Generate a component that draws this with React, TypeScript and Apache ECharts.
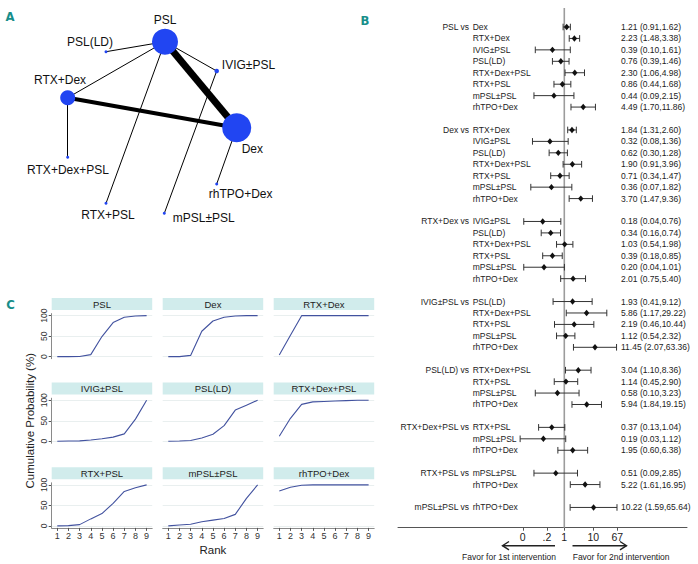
import { useEffect, useRef } from "react";
import * as echarts from "echarts";

const FONT = "'Liberation Sans', Arial, Helvetica, sans-serif";
const TEAL = "#178e8a";
const NODE_COLOR = "#2145f2";

// ---------- Panel A: network ----------
const nodeNames = ["PSL", "Dex", "RTX+Dex", "IVIG±PSL", "PSL(LD)", "RTX+Dex+PSL", "RTX+PSL", "mPSL±PSL", "rhTPO+Dex"];
const nodeX = [165, 236.7, 67.7, 216.7, 106, 67.7, 106, 164.3, 216.7];
const nodeY = [41.7, 127.7, 97.7, 71, 51.7, 157.3, 203.3, 213.3, 184];
const nodeSize = [26, 29, 15, 4.5, 3, 3, 3, 3, 3];
const edgeFrom = ["PSL", "RTX+Dex", "PSL", "PSL", "PSL", "PSL", "IVIG±PSL", "Dex", "RTX+Dex"];
const edgeTo = ["Dex", "Dex", "RTX+Dex", "PSL(LD)", "IVIG±PSL", "RTX+PSL", "mPSL±PSL", "rhTPO+Dex", "RTX+Dex+PSL"];
const edgeWidth = [7, 4, 1, 1, 1, 1, 1, 1, 1];

// label placement (layout, not data)
const nodeLabelOffset: [number, number][] = [
  [0, -21.7], [15.6, 21.3], [-7.7, -17.7], [31.8, -6], [-16, -10],
  [0.3, 12.7], [2, 11.7], [39.4, 4.7], [24, 10],
];

// ---------- Panel B: forest plot ----------
const rowFirst = [
  "PSL", "PSL", "PSL", "PSL", "PSL", "PSL", "PSL", "PSL",
  "Dex", "Dex", "Dex", "Dex", "Dex", "Dex", "Dex",
  "RTX+Dex", "RTX+Dex", "RTX+Dex", "RTX+Dex", "RTX+Dex", "RTX+Dex",
  "IVIG±PSL", "IVIG±PSL", "IVIG±PSL", "IVIG±PSL", "IVIG±PSL",
  "PSL(LD)", "PSL(LD)", "PSL(LD)", "PSL(LD)",
  "RTX+Dex+PSL", "RTX+Dex+PSL", "RTX+Dex+PSL",
  "RTX+PSL", "RTX+PSL",
  "mPSL±PSL",
];
const rowSecond = [
  "Dex", "RTX+Dex", "IVIG±PSL", "PSL(LD)", "RTX+Dex+PSL", "RTX+PSL", "mPSL±PSL", "rhTPO+Dex",
  "RTX+Dex", "IVIG±PSL", "PSL(LD)", "RTX+Dex+PSL", "RTX+PSL", "mPSL±PSL", "rhTPO+Dex",
  "IVIG±PSL", "PSL(LD)", "RTX+Dex+PSL", "RTX+PSL", "mPSL±PSL", "rhTPO+Dex",
  "PSL(LD)", "RTX+Dex+PSL", "RTX+PSL", "mPSL±PSL", "rhTPO+Dex",
  "RTX+Dex+PSL", "RTX+PSL", "mPSL±PSL", "rhTPO+Dex",
  "RTX+PSL", "mPSL±PSL", "rhTPO+Dex",
  "mPSL±PSL", "rhTPO+Dex",
  "rhTPO+Dex",
];
const orEst = [
  1.21, 2.23, 0.39, 0.76, 2.30, 0.86, 0.44, 4.49,
  1.84, 0.32, 0.62, 1.90, 0.71, 0.36, 3.70,
  0.18, 0.34, 1.03, 0.39, 0.20, 2.01,
  1.93, 5.86, 2.19, 1.12, 11.45,
  3.04, 1.14, 0.58, 5.94,
  0.37, 0.19, 1.95,
  0.51, 5.22,
  10.22,
];
const ciLow = [
  0.91, 1.48, 0.10, 0.39, 1.06, 0.44, 0.09, 1.70,
  1.31, 0.08, 0.30, 0.91, 0.34, 0.07, 1.47,
  0.04, 0.16, 0.54, 0.18, 0.04, 0.75,
  0.41, 1.17, 0.46, 0.54, 2.07,
  1.10, 0.45, 0.10, 1.84,
  0.13, 0.03, 0.60,
  0.09, 1.61,
  1.59,
];
const ciHigh = [
  1.62, 3.38, 1.61, 1.46, 4.98, 1.68, 2.15, 11.86,
  2.60, 1.36, 1.28, 3.96, 1.47, 1.82, 9.36,
  0.76, 0.74, 1.98, 0.85, 1.01, 5.40,
  9.12, 29.22, 10.44, 2.32, 63.36,
  8.36, 2.90, 3.23, 19.15,
  1.04, 1.12, 6.38,
  2.85, 16.95,
  65.64,
];
const forestTickValues = [0.037, 0.25, 1, 10, 67];
const forestTickLabels = ["0", ".2", "1", "10", "67"];

// ---------- Panel C: cumulative ranking ----------
const rankLabels = ["1", "2", "3", "4", "5", "6", "7", "8", "9"];
const panelNames = ["PSL", "Dex", "RTX+Dex", "IVIG±PSL", "PSL(LD)", "RTX+Dex+PSL", "RTX+PSL", "mPSL±PSL", "rhTPO+Dex"];
const cumPSL = [0, 0, 0.5, 5, 49, 83, 96, 99, 100];
const cumDex = [0, 0, 3, 62, 87, 96, 99, 100, 100];
const cumRTXDex = [4, 52, 100, 100, 100, 100, 100, 100, 100];
const cumIVIG = [0, 0.5, 1, 3, 6, 10, 18, 54, 100];
const cumPSLLD = [0, 0.5, 2, 8, 17, 38, 76, 88, 100];
const cumRTXDexPSL = [12, 56, 90, 96, 97, 98, 99, 100, 100];
const cumRTXPSL = [0, 0.5, 3, 17, 30, 55, 84, 93, 100];
const cumMPSL = [0, 2, 4, 10, 14, 18, 28, 67, 100];
const cumRhTPO = [85, 94, 99, 100, 100, 100, 100, 100, 100];
const cumSeries = [cumPSL, cumDex, cumRTXDex, cumIVIG, cumPSLLD, cumRTXDexPSL, cumRTXPSL, cumMPSL, cumRhTPO];
const yTicksC = [0, 50, 100];

function buildOption() {
  const L = Math.log10;

  // forest row layout: blank row between comparison groups
  const rows: number[][] = [];
  let r = 0;
  for (let i = 0; i < rowFirst.length; i++) {
    if (i > 0 && rowFirst[i] !== rowFirst[i - 1]) r++;
    rows.push([r, L(ciLow[i]), L(orEst[i]), L(ciHigh[i]), i]);
    r++;
  }
  const fYMin = -1.66;
  const fYMax = 43.77;

  const grids: any[] = [
    { left: 0, top: 0, width: 300, height: 290 },
    { left: 398, top: 8, width: 289, height: 519.7 },
  ];
  const xAxes: any[] = [
    { gridIndex: 0, type: "value", min: 0, max: 300, show: false },
    {
      gridIndex: 1,
      type: "value",
      min: -5.734,
      max: 4.231,
      axisLine: { show: true, onZero: false, lineStyle: { color: "#555", width: 1 } },
      axisTick: { show: true, length: 3, customValues: forestTickValues.map(L), lineStyle: { color: "#555" } },
      axisLabel: {
        show: true,
        customValues: forestTickValues.map(L),
        margin: 4,
        fontSize: 10.5,
        color: "#222",
        fontFamily: FONT,
        formatter: (v: number) => {
          const k = forestTickValues.findIndex((t) => Math.abs(L(t) - v) < 1e-6);
          return k >= 0 ? forestTickLabels[k] : "";
        },
      },
      splitLine: { show: false },
    },
  ];
  const yAxes: any[] = [
    { gridIndex: 0, type: "value", min: 0, max: 290, inverse: true, show: false },
    { gridIndex: 1, type: "value", min: fYMin, max: fYMax, inverse: true, show: false },
  ];

  const series: any[] = [
    {
      type: "graph",
      coordinateSystem: "cartesian2d",
      xAxisIndex: 0,
      yAxisIndex: 0,
      layout: "none",
      symbol: "circle",
      silent: true,
      itemStyle: { color: NODE_COLOR },
      label: { show: true, position: "inside", fontSize: 12, color: "#111", fontFamily: FONT },
      lineStyle: { color: "#000", opacity: 1, curveness: 0 },
      emphasis: { disabled: true },
      data: nodeNames.map((n, i) => ({
        name: n,
        value: [nodeX[i], nodeY[i]],
        symbolSize: nodeSize[i],
        label: { offset: nodeLabelOffset[i] },
      })),
      links: edgeFrom.map((s, i) => ({
        source: nodeNames.indexOf(s),
        target: nodeNames.indexOf(edgeTo[i]),
        lineStyle: { width: edgeWidth[i], color: "#000", opacity: 1 },
      })),
    },
    {
      type: "line",
      xAxisIndex: 1,
      yAxisIndex: 1,
      data: [[0, fYMin], [0, fYMax]],
      symbol: "none",
      silent: true,
      lineStyle: { color: "#9c9c9c", width: 1.6 },
      z: 1,
    },
    {
      type: "custom",
      xAxisIndex: 1,
      yAxisIndex: 1,
      silent: true,
      data: rows,
      encode: { x: [1, 2, 3], y: 0 },
      z: 3,
      renderItem: (_params: any, api: any) => {
        const row = api.value(0);
        const idx = api.value(4);
        const pLo = api.coord([api.value(1), row]);
        const pOr = api.coord([api.value(2), row]);
        const pHi = api.coord([api.value(3), row]);
        const y = pOr[1];
        const stroke = "#333";
        const ts = { fontSize: 8.5, fontFamily: FONT, fill: "#222" };
        const children: any[] = [
          { type: "line", shape: { x1: pLo[0], y1: y, x2: pHi[0], y2: y }, style: { stroke, lineWidth: 1 } },
          { type: "line", shape: { x1: pLo[0], y1: y - 3.3, x2: pLo[0], y2: y + 3.3 }, style: { stroke, lineWidth: 1 } },
          { type: "line", shape: { x1: pHi[0], y1: y - 3.3, x2: pHi[0], y2: y + 3.3 }, style: { stroke, lineWidth: 1 } },
          {
            type: "polygon",
            shape: { points: [[pOr[0], y - 3.2], [pOr[0] + 2.7, y], [pOr[0], y + 3.2], [pOr[0] - 2.7, y]] },
            style: { fill: "#111" },
          },
          {
            type: "text",
            x: 472.7,
            y,
            style: { ...ts, text: rowSecond[idx], align: "left", textAlign: "left", verticalAlign: "middle", textVerticalAlign: "middle" },
          },
          {
            type: "text",
            x: 621,
            y,
            style: {
              ...ts,
              text: `${orEst[idx].toFixed(2)} (${ciLow[idx].toFixed(2)},${ciHigh[idx].toFixed(2)})`,
              align: "left",
              textAlign: "left",
              verticalAlign: "middle",
              textVerticalAlign: "middle",
            },
          },
        ];
        if (idx === 0 || rowFirst[idx] !== rowFirst[idx - 1]) {
          children.push({
            type: "text",
            x: 469,
            y,
            style: { ...ts, text: `${rowFirst[idx]} vs`, align: "right", textAlign: "right", verticalAlign: "middle", textVerticalAlign: "middle" },
          });
        }
        return { type: "group", children };
      },
    },
  ];

  // panel C grids
  const cLeft0 = 51.7, cDx = 111, cW = 100.5, cTop0 = 313.6, cDy = 84.6, cH = 45.1;
  const graphics: any[] = [];
  for (let k = 0; k < 9; k++) {
    const rr = Math.floor(k / 3);
    const cc = k % 3;
    const left = cLeft0 + cc * cDx;
    const top = cTop0 + rr * cDy;
    const gi = 2 + k;
    grids.push({ left, top, width: cW, height: cH });
    const bottom = rr === 2;
    const leftCol = cc === 0;
    xAxes.push({
      gridIndex: gi,
      type: "category",
      data: rankLabels,
      boundaryGap: true,
      axisLine: { show: bottom, onZero: false, lineStyle: { color: "#8a8a8a", width: 1 } },
      axisTick: { show: bottom, alignWithLabel: true, length: 3, lineStyle: { color: "#555" } },
      axisLabel: { show: bottom, margin: 4, fontSize: 9, color: "#333", fontFamily: FONT, interval: 0 },
      splitLine: { show: false },
      name: k === 7 ? "Rank" : "",
      nameLocation: "middle",
      nameGap: 16,
      nameTextStyle: { fontSize: 11.5, color: "#222", fontFamily: FONT },
    });
    yAxes.push({
      gridIndex: gi,
      type: "value",
      min: -5,
      max: 105,
      axisLine: { show: leftCol, onZero: false, lineStyle: { color: "#8a8a8a", width: 1 } },
      axisTick: { show: leftCol, length: 3, customValues: yTicksC, lineStyle: { color: "#555" } },
      axisLabel: { show: leftCol, customValues: yTicksC, rotate: 90, margin: 3, fontSize: 8.5, color: "#333", fontFamily: FONT },
      splitLine: { show: false },
      name: k === 3 ? "Cumulative Probability (%)" : "",
      nameLocation: "middle",
      nameRotate: 90,
      nameGap: 16,
      nameTextStyle: { fontSize: 11.5, color: "#222", fontFamily: FONT },
    });
    series.push({
      type: "line",
      xAxisIndex: gi,
      yAxisIndex: gi,
      data: cumSeries[k],
      symbol: "none",
      silent: true,
      lineStyle: { color: "#42529f", width: 1.1 },
      markLine: {
        silent: true,
        symbol: "none",
        label: { show: false },
        lineStyle: { color: "#e9efef", width: 1, type: "solid" },
        data: yTicksC.map((v) => ({ yAxis: v })),
        z: 1,
      },
    });
    graphics.push({
      type: "rect",
      shape: { x: left, y: top - 15.6, width: cW, height: 12 },
      style: { fill: "#d1ecec" },
      silent: true,
    });
    graphics.push({
      type: "text",
      x: left + cW / 2,
      y: top - 9.6,
      style: {
        text: panelNames[k],
        fontSize: 9.5,
        fontFamily: FONT,
        fill: "#222",
        align: "center",
        textAlign: "center",
        verticalAlign: "middle",
        textVerticalAlign: "middle",
      },
      silent: true,
    });
  }

  const letter = (t: string, x: number, y: number) => ({
    type: "text",
    x,
    y,
    silent: true,
    style: {
      text: t,
      fontSize: 13,
      fontWeight: "bold",
      fontFamily: "'Liberation Sans Narrow', 'DejaVu Sans Condensed', Arial, sans-serif",
      fill: TEAL,
      align: "center",
      textAlign: "center",
      verticalAlign: "middle",
      textVerticalAlign: "middle",
    },
  });
  graphics.push(letter("A", 10, 16), letter("B", 365, 20), letter("C", 10.5, 304.5));

  // favour arrows under forest plot
  const ay = 545.7;
  graphics.push(
    { type: "line", silent: true, shape: { x1: 555, y1: ay, x2: 502.5, y2: ay }, style: { stroke: "#222", lineWidth: 1.4 } },
    { type: "polyline", silent: true, shape: { points: [[509, ay - 4.2], [502.5, ay], [509, ay + 4.2]] }, style: { stroke: "#222", lineWidth: 1.4, fill: "none" } },
    { type: "line", silent: true, shape: { x1: 572.5, y1: ay, x2: 626.5, y2: ay }, style: { stroke: "#222", lineWidth: 1.4 } },
    { type: "polyline", silent: true, shape: { points: [[620, ay - 4.2], [626.5, ay], [620, ay + 4.2]] }, style: { stroke: "#222", lineWidth: 1.4, fill: "none" } },
    {
      type: "text",
      x: 556,
      y: 556.7,
      silent: true,
      style: { text: "Favor for 1st intervention", fontSize: 8.5, fontFamily: FONT, fill: "#222", align: "right", textAlign: "right", verticalAlign: "middle", textVerticalAlign: "middle" },
    },
    {
      type: "text",
      x: 572.7,
      y: 556.7,
      silent: true,
      style: { text: "Favor for 2nd intervention", fontSize: 8.5, fontFamily: FONT, fill: "#222", align: "left", textAlign: "left", verticalAlign: "middle", textVerticalAlign: "middle" },
    }
  );

  return {
    animation: false,
    backgroundColor: "#ffffff",
    textStyle: { fontFamily: FONT },
    grid: grids,
    xAxis: xAxes,
    yAxis: yAxes,
    series,
    graphic: graphics,
  };
}

export default function App() {
  const ref = useRef<HTMLDivElement>(null);
  useEffect(() => {
    if (!ref.current) return;
    const chart = echarts.init(ref.current, null, { renderer: "svg" });
    chart.setOption(buildOption() as any);
    return () => chart.dispose();
  }, []);
  return (
    <div
      ref={ref}
      style={{ position: "fixed", left: 0, top: 0, width: 698, height: 564, background: "#fff" }}
    />
  );
}
